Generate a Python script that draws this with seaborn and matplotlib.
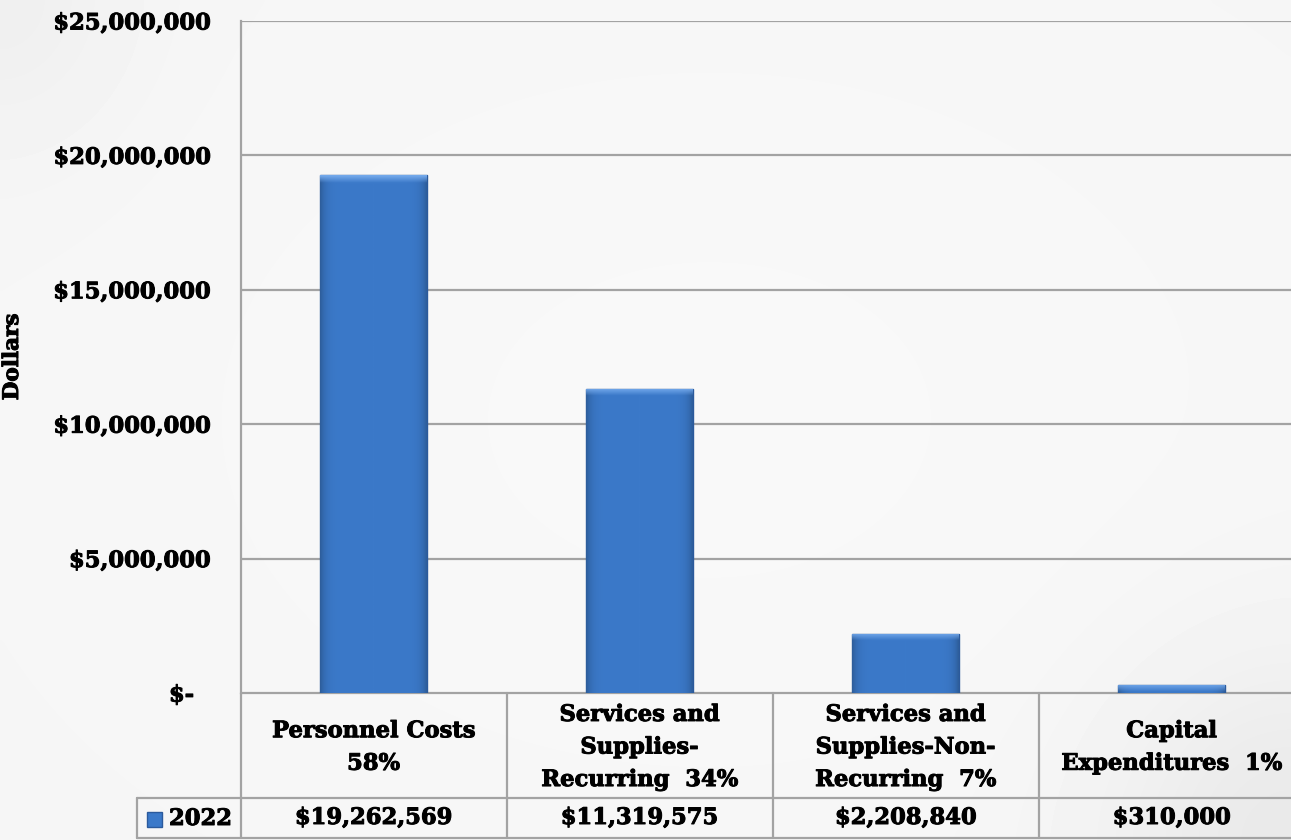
import numpy as np
import pandas as pd
import matplotlib
matplotlib.use("Agg")
import matplotlib.pyplot as plt
import matplotlib.transforms as mtransforms
import matplotlib.patheffects as pe
from matplotlib.patches import Rectangle
from matplotlib.ticker import FuncFormatter, MultipleLocator
import seaborn as sns

# ---- data -------------------------------------------------------------
categories = [
    "Personnel Costs\n58%",
    "Services and\nSupplies-\nRecurring  34%",
    "Services and\nSupplies-Non-\nRecurring  7%",
    "Capital\nExpenditures  1%",
]
values_2022 = [19262569, 11319575, 2208840, 310000]
series_name = "2022"
y_ticks = [0, 5000000, 10000000, 15000000, 20000000, 25000000]

# ---- style ------------------------------------------------------------
sns.set_theme(style="white")
plt.rcParams["font.family"] = ["DejaVu Serif"]
plt.rcParams["font.weight"] = "bold"
plt.rcParams["text.color"] = "black"
plt.rcParams["axes.labelcolor"] = "black"
plt.rcParams["ytick.color"] = "black"

BAR = "#3b79c9"
BAR_EDGE = "#2b5a9c"
GRID = "#a3a3a3"
FS = 16.3
THICK = [pe.withStroke(linewidth=0.7, foreground="black")]

fig = plt.figure(figsize=(12.91, 8.40), dpi=100)
fig.patch.set_facecolor("#f5f5f5")

# soft backdrop shading
bg = fig.add_axes([0, 0, 1, 1], zorder=-10)
yy, xx = np.mgrid[0:1:200j, 0:1:300j]
shade = 0.962 + 0.012 * np.exp(-((xx - 0.55) ** 2 / 0.25 + (yy - 0.5) ** 2 / 0.3))
shade -= 0.05 * np.exp(-(((xx - 1.0) ** 2) / 0.02 + ((yy - 1.0) ** 2) / 0.05))
shade -= 0.025 * np.exp(-(((xx - 0.0) ** 2) / 0.01 + ((yy - 0.0) ** 2) / 0.03))
bg.imshow(np.clip(shade, 0, 1), cmap="gray", vmin=0, vmax=1, aspect="auto",
          extent=[0, 1, 1, 0], interpolation="bicubic")
bg.set_axis_off()

ax_h_px = 672
ax = fig.add_axes([240.5 / 1291, 1 - 693 / 840, 1064 / 1291, ax_h_px / 840])
ax.set_facecolor("none")

df = pd.DataFrame({"category": categories, "value": values_2022})
sns.barplot(data=df, x="category", y="value", color=BAR, width=0.4,
            edgecolor=BAR_EDGE, linewidth=1.0, saturation=1, ax=ax, zorder=3)

ax.set_xlim(-0.5, len(categories) - 0.5)
ax.set_ylim(0, 25000000)

# bevel-like shading on each bar: darker side edges, light top lip
base = np.array(matplotlib.colors.to_rgb(BAR))
light = np.array([0.45, 0.66, 0.92])
cols = np.linspace(0, 1, 80)
side = 1 - 0.22 * (np.abs(cols - 0.5) * 2) ** 10
for p in list(ax.patches):
    x0, y0, w, h = p.get_x(), p.get_y(), p.get_width(), p.get_height()
    h_px = h / 25000000 * ax_h_px
    rows = np.linspace(1, 0, 300)  # top -> bottom
    depth = (1 - rows) * h_px
    lip = np.clip(1 - depth / 7.0, 0, 1)[:, None, None]
    img = np.ones((300, 80, 3)) * base * side[None, :, None]
    img = img * (1 - lip) + light * lip
    im = ax.imshow(img, extent=[x0, x0 + w, y0, y0 + h], aspect="auto",
                   zorder=3.5, interpolation="bilinear")
    im.set_clip_path(p)

ax.yaxis.set_major_locator(MultipleLocator(5000000))
ax.yaxis.set_major_formatter(
    FuncFormatter(lambda v, _: "$-  " if v == 0 else f"${v:,.0f}"))
ax.tick_params(axis="y", length=0, pad=22, labelsize=FS)
ax.tick_params(axis="x", length=0, labelbottom=False)
for lab in ax.get_yticklabels():
    lab.set_fontweight("bold")
    lab.set_path_effects(THICK)
ax.set_xlabel("")
ax.set_ylabel("Dollars", fontsize=15.5, fontweight="bold", path_effects=THICK)
ax.yaxis.set_label_coords(-0.2044, 0.5)

for v in y_ticks[1:]:
    ax.axhline(v, color=GRID, lw=1.6, zorder=1)
for s in ["top", "right", "bottom"]:
    ax.spines[s].set_visible(False)
ax.spines["left"].set_color(GRID)
ax.spines["left"].set_linewidth(1.6)

# ---- data table beneath the axis --------------------------------------
tr = mtransforms.blended_transform_factory(ax.transData, ax.transAxes)
n = len(categories)
row1 = -105 / ax_h_px
row2 = -145 / ax_h_px
key_left = -0.5 - 103 / 266
line_kw = dict(color=GRID, lw=1.6, clip_on=False, transform=tr, zorder=2)

ax.plot([-0.5, n - 0.5], [0, 0], **line_kw)
ax.plot([key_left, n - 0.5], [row1, row1], **line_kw)
ax.plot([key_left, n - 0.5], [row2, row2], **line_kw)
ax.plot([key_left, key_left], [row1, row2], **line_kw)
for i in range(n):
    ax.plot([i - 0.5, i - 0.5], [0, row2], **line_kw)

for i, (cat, val) in enumerate(zip(categories, values_2022)):
    ax.text(i, row1 / 2 - 2 / ax_h_px, cat, transform=tr, ha="center",
            va="center", fontsize=FS, fontweight="bold", linespacing=1.62,
            clip_on=False, path_effects=THICK)
    ax.text(i, (row1 + row2) / 2, f"${val:,.0f}", transform=tr,
            ha="center", va="center", fontsize=FS, fontweight="bold",
            clip_on=False, path_effects=THICK)

# legend key cell
key = Rectangle((147 / 1291, 1 - 827 / 840), 15 / 1291, 15 / 840,
                transform=fig.transFigure, facecolor=BAR, edgecolor=BAR_EDGE,
                lw=1.0, clip_on=False)
fig.add_artist(key)
fig.text(169 / 1291, 1 - 819 / 840, series_name, ha="left", va="center",
         fontsize=FS, fontweight="bold", path_effects=THICK)

fig.savefig("out.png", dpi=100, facecolor=fig.get_facecolor())
